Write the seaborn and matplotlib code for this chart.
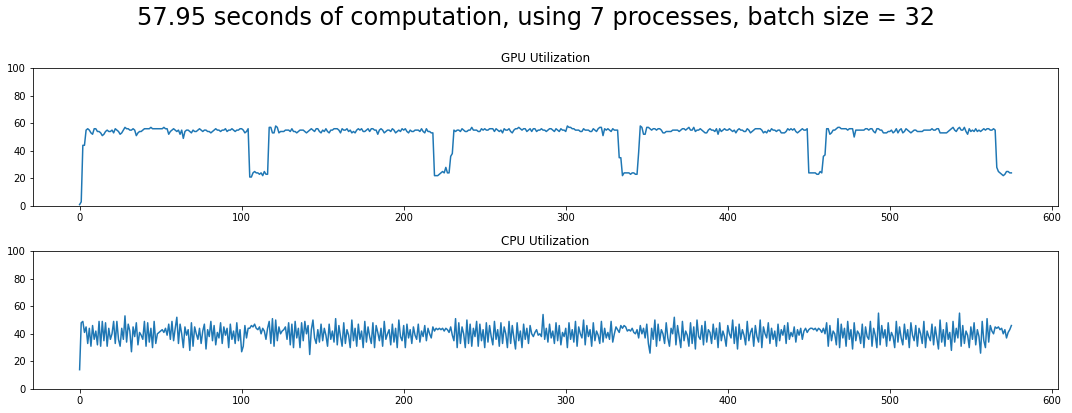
import numpy as np
import pandas as pd
import matplotlib
matplotlib.use("Agg")
import matplotlib.pyplot as plt
import seaborn as sns

# GPU utilisation (%), one value per sample, split at the dips
gpu_a = [1, 3, 44, 44, 55, 56, 55, 53, 52, 56,
         56, 54, 54, 53, 51, 52, 54, 55, 54, 54,
         55, 53, 56, 55, 54, 52, 53, 55, 57, 56,
         56, 55, 55, 56, 55, 51, 53, 54, 54, 55,
         56, 56, 56, 56, 57, 56, 56, 56, 56, 56,
         56, 56, 57, 56, 56, 52, 54, 55, 56, 55,
         54, 55, 52, 55, 49, 54, 55, 55, 54, 53,
         55, 54, 54, 55, 56, 55, 54, 55, 55, 54,
         54, 53, 54, 55, 56, 55, 55, 54, 55, 55,
         56, 54, 55, 55, 56, 55, 54, 55, 55, 56,
         56, 55, 53, 54, 56]
gpu_dip1 = [21, 21, 24, 25, 24, 24, 23, 24, 22, 25, 23, 23]
gpu_b = [57, 57, 53, 53, 58, 57, 53, 54, 54, 54,
         55, 55, 55, 54, 56, 54, 54, 53, 54, 55,
         55, 55, 54, 53, 54, 55, 56, 55, 54, 56,
         56, 54, 53, 55, 54, 56, 54, 53, 55, 55,
         56, 56, 56, 55, 53, 56, 55, 55, 56, 54,
         55, 53, 54, 53, 55, 56, 55, 56, 54, 54,
         55, 56, 54, 56, 56, 55, 55, 52, 55, 56,
         55, 53, 54, 55, 55, 54, 56, 55, 53, 54,
         55, 54, 56, 55, 56, 54, 53, 55, 54, 54,
         55, 55, 55, 54, 56, 54, 53, 56, 54, 54,
         53, 53]
gpu_dip2 = [22, 22, 22, 23, 24, 25, 24, 28, 24, 24, 36, 38]
gpu_c = [55, 54, 55, 55, 54, 56, 55, 54, 54, 55,
         55, 57, 55, 55, 55, 54, 54, 56, 55, 56,
         55, 55, 56, 56, 56, 54, 56, 55, 54, 55,
         53, 56, 55, 55, 56, 54, 53, 55, 56, 56,
         57, 56, 55, 56, 56, 54, 55, 56, 54, 56,
         56, 54, 55, 55, 56, 55, 55, 54, 55, 56,
         56, 55, 54, 56, 55, 54, 56, 55, 55, 54,
         58, 57, 57, 56, 56, 55, 55, 55, 54, 54,
         56, 55, 55, 55, 54, 54, 56, 55, 54, 56,
         57, 57, 51, 56, 55, 56, 55, 54, 56, 55,
         55, 55]
gpu_dip3 = [35, 35, 22, 24, 24, 24, 24, 23, 24, 24, 23, 23, 39]
gpu_d = [58, 57, 52, 52, 57, 57, 56, 55, 56, 56,
         55, 56, 56, 55, 53, 53, 54, 54, 54, 54,
         55, 55, 55, 55, 54, 55, 56, 56, 55, 56,
         57, 55, 55, 57, 54, 55, 55, 56, 55, 54,
         53, 53, 55, 56, 55, 55, 54, 56, 52, 56,
         54, 55, 56, 55, 55, 56, 55, 54, 55, 53,
         55, 56, 55, 55, 54, 54, 56, 55, 53, 54,
         55, 56, 56, 56, 56, 55, 53, 54, 53, 55,
         54, 56, 55, 55, 54, 55, 55, 53, 53, 53,
         54, 56, 55, 56, 55, 56, 54, 53, 54, 55,
         56, 55, 55, 56]
gpu_dip4 = [24, 24, 24, 24, 24, 23, 23, 25, 24, 36, 37]
gpu_e = [56, 56, 52, 53, 55, 55, 56, 57, 57, 56,
         56, 56, 56, 55, 56, 56, 56, 50, 55, 55,
         55, 55, 55, 55, 56, 56, 55, 56, 56, 54,
         53, 56, 56, 55, 55, 53, 53, 53, 54, 54,
         55, 53, 54, 56, 53, 55, 56, 53, 54, 56,
         55, 54, 53, 54, 55, 55, 54, 54, 54, 54,
         55, 55, 55, 55, 55, 56, 55, 55, 56, 56,
         53, 53, 53, 53, 53, 54, 55, 56, 57, 55,
         54, 56, 57, 55, 55, 57, 54, 52, 56, 54,
         55, 54, 56, 54, 55, 54, 55, 56, 55, 56,
         56, 55, 55, 56, 55]
gpu_end = [28, 25, 24, 23, 22, 23, 25, 25, 24, 24]

# CPU utilisation (%), same sample split
cpu_a = [14, 48, 49, 41, 45, 33, 44, 31, 46, 36,
         42, 32, 49, 31, 49, 35, 48, 31, 44, 36,
         40, 49, 33, 49, 36, 31, 44, 36, 53, 34,
         47, 42, 27, 45, 38, 48, 32, 41, 39, 36,
         49, 31, 48, 34, 44, 30, 49, 33, 40, 41,
         42, 43, 41, 44, 39, 47, 36, 49, 35, 44,
         52, 33, 47, 40, 30, 45, 39, 43, 28, 48,
         31, 45, 40, 36, 44, 33, 42, 47, 29, 43,
         38, 49, 35, 46, 32, 41, 37, 48, 33, 45,
         39, 44, 30, 47, 36, 42, 33, 48, 35, 43,
         27, 31, 46, 37, 44]
cpu_dip1 = [44, 46, 45, 47, 44, 43, 45, 40, 44, 42, 36, 44]
cpu_b = [49, 33, 51, 31, 50, 35, 45, 40, 42, 43,
         45, 36, 48, 32, 47, 30, 49, 37, 44, 30,
         48, 35, 49, 40, 46, 25, 43, 50, 37, 33,
         43, 34, 47, 35, 44, 39, 31, 47, 36, 42,
         34, 51, 32, 46, 38, 31, 48, 33, 43, 39,
         30, 50, 35, 44, 31, 47, 36, 42, 30, 49,
         34, 45, 38, 33, 48, 30, 46, 41, 35, 44,
         31, 49, 36, 40, 43, 32, 47, 34, 44, 30,
         50, 38, 35, 46, 30, 47, 37, 43, 33, 45,
         39, 36, 47, 34, 42, 38, 46, 35, 44, 40,
         37, 45]
cpu_dip2 = [42, 44, 43, 44, 43, 44, 42, 44, 43, 41, 45, 39]
cpu_c = [35, 51, 30, 48, 33, 45, 40, 30, 50, 33,
         47, 31, 44, 38, 49, 31, 47, 35, 43, 30,
         48, 34, 46, 38, 32, 49, 36, 43, 31, 48,
         33, 45, 40, 30, 49, 33, 46, 37, 29, 48,
         35, 42, 30, 47, 36, 44, 33, 46, 40, 38,
         41, 43, 39, 40, 38, 54, 36, 44, 34, 47,
         37, 42, 33, 48, 35, 46, 32, 41, 38, 44,
         30, 48, 36, 43, 34, 49, 31, 45, 40, 37,
         50, 32, 46, 38, 43, 31, 48, 35, 42, 39,
         33, 49, 34, 44, 37, 41, 36, 49, 34, 40,
         45, 43]
cpu_dip3 = [41, 46, 44, 46, 45, 42, 43, 42, 44, 41, 40, 43, 37]
cpu_d = [46, 40, 44, 37, 47, 33, 26, 44, 36, 50,
         31, 47, 35, 43, 40, 33, 48, 37, 31, 44,
         40, 52, 32, 46, 38, 30, 49, 35, 42, 39,
         31, 48, 33, 45, 29, 50, 38, 36, 46, 32,
         49, 34, 43, 41, 33, 47, 36, 44, 30, 48,
         35, 42, 38, 31, 46, 40, 37, 50, 33, 45,
         29, 47, 36, 43, 39, 32, 49, 35, 41, 44,
         31, 46, 38, 34, 50, 30, 45, 40, 37, 48,
         33, 44, 36, 42, 31, 47, 35, 43, 39, 46,
         33, 48, 36, 41, 38, 45, 34, 43, 39, 44,
         36, 42, 44, 41]
cpu_dip4 = [43, 44, 44, 43, 44, 42, 44, 43, 41, 44, 40]
cpu_e = [48, 31, 46, 35, 42, 40, 32, 51, 30, 47,
         37, 44, 31, 49, 36, 43, 29, 48, 35, 42,
         40, 33, 47, 30, 45, 38, 36, 49, 31, 44,
         39, 30, 55, 32, 46, 37, 43, 31, 48, 35,
         41, 38, 30, 49, 34, 45, 37, 32, 47, 36,
         43, 30, 48, 39, 35, 46, 31, 44, 40, 33,
         49, 30, 42, 38, 35, 47, 32, 45, 37, 29,
         50, 34, 43, 31, 48, 36, 41, 28, 49, 34,
         44, 37, 55, 31, 46, 33, 42, 39, 30, 45,
         36, 48, 32, 43, 38, 26, 49, 35, 30, 51,
         34, 46, 42, 40, 45]
cpu_end = [44, 45, 43, 44, 40, 43, 37, 41, 43, 46]

gpu = (gpu_a + gpu_dip1 + gpu_b + gpu_dip2 + gpu_c + gpu_dip3
       + gpu_d + gpu_dip4 + gpu_e + gpu_end)
cpu = (cpu_a + cpu_dip1 + cpu_b + cpu_dip2 + cpu_c + cpu_dip3
       + cpu_d + cpu_dip4 + cpu_e + cpu_end)

gpu_df = pd.DataFrame({"t": np.arange(len(gpu)), "util": gpu})
cpu_df = pd.DataFrame({"t": np.arange(len(cpu)), "util": cpu})

dpi = 72
fig = plt.figure(figsize=(1072 / dpi, 413 / dpi), dpi=dpi)
ax1 = fig.add_axes([0.0308, 0.5012, 0.9561, 0.3341])
ax2 = fig.add_axes([0.0308, 0.0581, 0.9561, 0.3341])

for ax, df, title in [(ax1, gpu_df, "GPU Utilization"), (ax2, cpu_df, "CPU Utilization")]:
    sns.lineplot(data=df, x="t", y="util", ax=ax, color="#1f77b4", linewidth=1.5)
    ax.set_ylim(0, 100)
    ax.set_yticks([0, 20, 40, 60, 80, 100])
    ax.set_title(title, fontsize=12)
    ax.set_xlabel("")
    ax.set_ylabel("")
    ax.tick_params(labelsize=10)

fig.suptitle("57.95 seconds of computation, using 7 processes, batch size = 32",
             fontsize=24, y=0.956, va="center")

fig.savefig("out.png", dpi=dpi)
print(len(gpu), len(cpu))
